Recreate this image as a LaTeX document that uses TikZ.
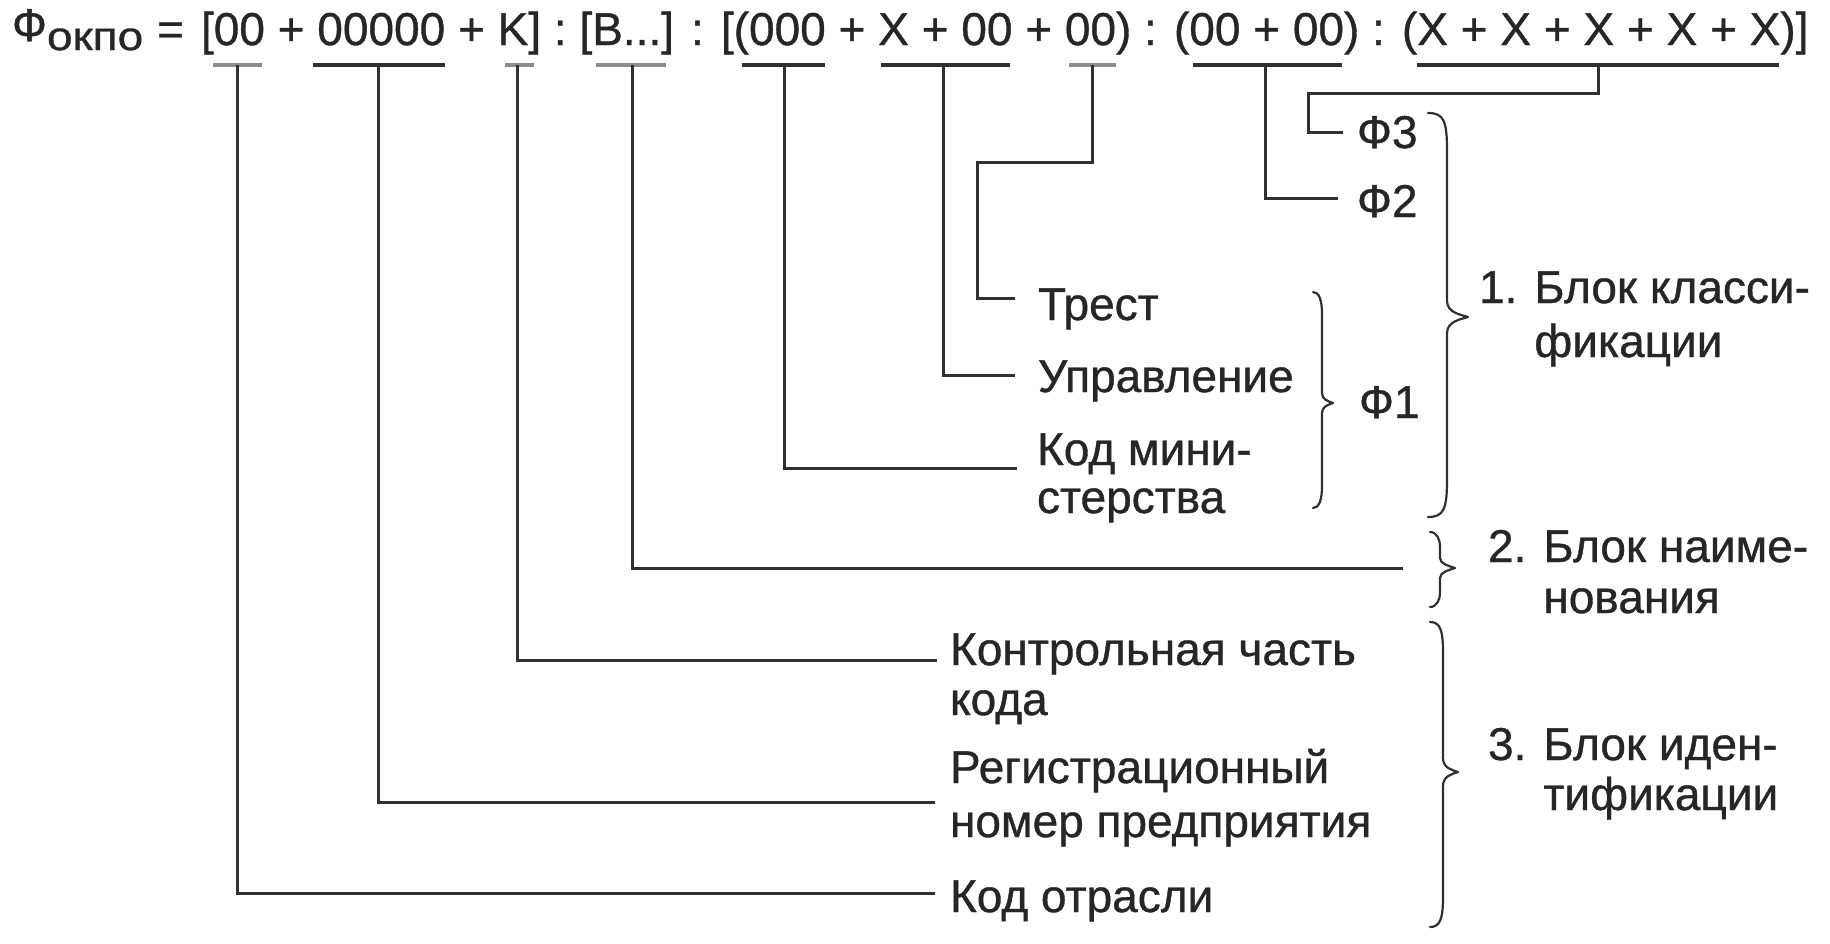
\documentclass[tikz,border=0pt]{standalone}
\usepackage{graphicx}
\usepackage{fontspec}
\setmainfont{Liberation Sans}[FakeBold=0.8]
\definecolor{ink}{HTML}{262626}
\definecolor{lin}{HTML}{303030}
\definecolor{lgray}{HTML}{8C8C8C}
\newcommand\tln[3]{\vtop{\baselineskip=#1pt\hbox{#2}\hbox{#3}}}
\newcommand\mybrace[8]{\draw[bracestyle] (#1,#4) .. controls ({#2-3},#4) and (#2,{#4+8}) .. (#2,{#4+#7}) -- (#2,{#5-#8}) .. controls (#2,{#5-4}) and ({#3-6},{#5-2}) .. (#3,#5) .. controls ({#3-6},{#5+2}) and (#2,{#5+4}) .. (#2,{#5+#8}) -- (#2,{#6-#7}) .. controls (#2,{#6-8}) and ({#2-3},#6) .. (#1,#6);}
\tikzset{
  lbl/.style={anchor=base west, inner sep=0pt, outer sep=0pt, font=\fontsize{46}{52}\selectfont, text=ink},
  uline/.style={draw=lin, line width=4pt},
  ulinegray/.style={draw=lgray, line width=4pt},
  conn/.style={draw=lin, line width=3pt},
  bracestyle/.style={draw=lin, line width=2.2pt, line cap=round, line join=round}
}
\begin{document}
\begin{tikzpicture}[x=1pt, y=-1pt]
\useasboundingbox[fill=white] (0,0) rectangle (1830,943);

% formula
\node[lbl, font=\fontsize{46}{48}\selectfont] (phi) at (12,41) {Ф};
\node[lbl, font=\fontsize{40}{44}\selectfont] (sub) at (47,50) {\scalebox{1.15}[1]{окпо}};
\node[lbl] (eq) at (157,45) {=};
\node[lbl] (formula) at (201,45) {[00 + 00000 + K] : [B...] : [(000 + X + 00 + 00) : (00 + 00) : (X + X + X + X + X)]};

% underlines
\draw[ulinegray] (213,65) -- (262,65);
\draw[uline] (313,65) -- (445,65);
\draw[ulinegray] (505,65) -- (534,65);
\draw[ulinegray] (596,65) -- (666,65);
\draw[uline] (742,65) -- (825,65);
\draw[uline] (881,65) -- (1010,65);
\draw[ulinegray] (1069,65) -- (1116,65);
\draw[uline] (1193,65) -- (1342,65);
\draw[uline] (1417,65) -- (1779,65);
\coordinate (u1) at (237,65);
\coordinate (u2) at (378,65);
\coordinate (u3) at (517,65);
\coordinate (u4) at (632,65);
\coordinate (u5) at (784,65);
\coordinate (u6) at (943,65);
\coordinate (u7) at (1092,65);
\coordinate (u8) at (1265,65);
\coordinate (u9) at (1598,65);

% labels
\node[lbl] (f3) at (1357,148) {Ф3};
\node[lbl] (f2) at (1357,217) {Ф2};
\node[lbl] (f1) at (1359,418) {Ф1};
\node[lbl] (trest) at (1038,320) {Трест};
\node[lbl] (upr) at (1038,392) {Управление};
\node[lbl] (mini) at (1037,465) {\tln{48}{Код мини-}{стерства}};
\node[lbl] (kontr) at (950,665) {\tln{50}{Контрольная часть}{кода}};
\node[lbl] (reg) at (950,783) {\tln{54}{Регистрационный}{номер предприятия}};
\node[lbl] (kodotr) at (950,912) {Код отрасли};
\node[lbl] (blk1) at (1479,303) {\tln{54}{1. Блок класси-}{\phantom{1. }фикации}};
\node[lbl] (blk2) at (1488,562) {\tln{51}{2. Блок наиме-}{\phantom{2. }нования}};
\node[lbl] (blk3) at (1488,760) {\tln{50}{3. Блок иден-}{\phantom{3. }тификации}};
\coordinate (b2end) at (1403,568);

% connectors
\draw[conn] (u1) |- ([shift={(-15,-19)}]kodotr.base west);
\draw[conn] (u2) |- ([shift={(-15,19)}]reg.base west);
\draw[conn] (u3) |- ([shift={(-13,-5)}]kontr.base west);
\draw[conn] (u4) |- (b2end);
\draw[conn] (u5) |- ([shift={(-20,3)}]mini.base west);
\draw[conn] (u6) |- ([shift={(-23,-17)}]upr.base west);
\draw[conn] (u7) -- ++(0,97) -| ([shift={(-61,-22)}]trest.base west) -- ([shift={(-23,-22)}]trest.base west);
\draw[conn] (u8) |- ([shift={(-19,-19)}]f2.base west);
\draw[conn] (u9) -- ++(0,28) -| ([shift={(-49,-16)}]f3.base west) -- ([shift={(-14,-16)}]f3.base west);

% braces
\mybrace{1428}{1447}{1468}{113}{317}{517}{38}{16}
\mybrace{1313}{1322}{1333}{292}{403}{508}{22}{10}
\mybrace{1430}{1440}{1455}{532}{568}{607}{14}{10}
\mybrace{1430}{1443}{1458}{622}{772}{927}{30}{14}
\end{tikzpicture}
\end{document}
